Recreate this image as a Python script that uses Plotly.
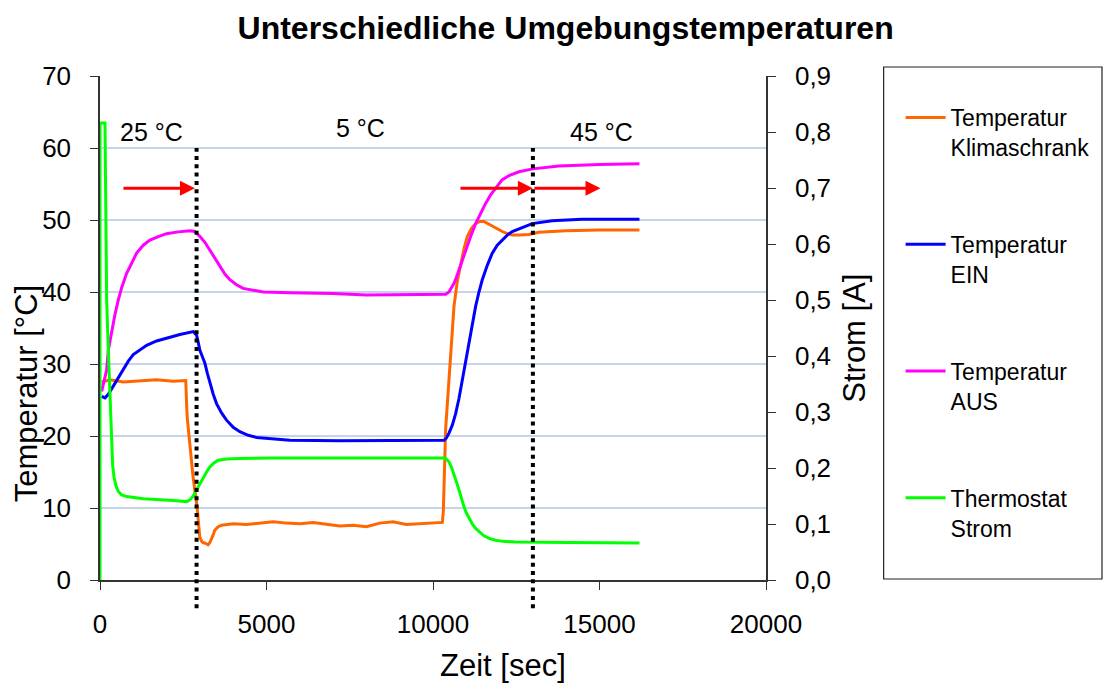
import plotly.graph_objects as go

# ---------------- data ----------------
t_klima = [50, 300, 700, 1200, 1700, 2200, 2575, 2600, 2620, 2695, 2795, 2915, 2995, 3050, 3095,
           3170, 3245, 3300, 3345, 3400, 3445, 3550, 3645, 4000, 4400, 4800, 5200, 5600, 6000,
           6400, 6800, 7200, 7600, 8000, 8400, 8800, 9200, 9600, 10000, 10280, 10310, 10340,
           10380, 10480, 10550, 10630, 10730, 10830, 10930, 11030, 11150, 11280, 11400, 11530,
           11650, 11780, 11930, 12080, 12230, 12380, 12600, 12880, 13180, 13500, 13980, 15000,
           16200]
T_klima = [27.5, 27.8, 27.5, 27.7, 27.8, 27.6, 27.7, 24.5, 22.5, 19.0, 14.3, 10.2, 6.0, 5.4, 5.2,
           5.1, 4.9, 5.2, 5.6, 6.3, 6.9, 7.4, 7.6, 7.8, 7.7, 7.9, 8.1, 7.9, 7.8,
           8.0, 7.7, 7.5, 7.6, 7.4, 7.9, 8.1, 7.7, 7.8, 8.0, 8.0, 9.5, 15.0,
           21.0, 27.8, 33.0, 38.0, 41.5, 44.0, 46.0, 47.7, 48.8, 49.5, 49.8, 49.8,
           49.5, 49.1, 48.7, 48.4, 48.1, 47.9, 47.9, 48.0, 48.3, 48.4, 48.5, 48.6,
           48.6]

t_ein = [50, 150, 250, 400, 550, 700, 850, 1000, 1200, 1400, 1700, 2000, 2400, 2800, 2900, 2950,
         3000, 3075, 3150, 3225, 3300, 3400, 3500, 3650, 3800, 4000, 4200, 4450, 4700, 5200,
         5700, 7200, 9000, 10330, 10400, 10480, 10580, 10680, 10780, 10880, 10980, 11080,
         11180, 11280, 11380, 11480, 11630, 11780, 11930, 12080, 12230, 12380, 12680, 12980,
         13580, 14470, 16200]
T_ein = [25.5, 25.3, 25.8, 27.0, 28.2, 29.3, 30.4, 31.3, 32.0, 32.6, 33.2, 33.6, 34.1, 34.5, 34.0,
         33.0, 31.9, 31.0, 30.1, 28.7, 27.3, 25.8, 24.5, 23.2, 22.2, 21.2, 20.6, 20.1, 19.8, 19.6,
         19.4, 19.35, 19.4, 19.4, 19.7, 20.4, 21.5, 23.1, 25.2, 27.8, 30.6, 33.3,
         35.8, 38.0, 40.0, 41.7, 43.7, 45.4, 46.5, 47.2, 47.9, 48.4, 49.0, 49.5,
         49.9, 50.1, 50.1]

t_aus = [50, 120, 200, 250, 350, 450, 550, 650, 800, 950, 1100, 1300, 1500, 1750, 2000, 2350,
         2700, 2850, 2950, 3000, 3150, 3300, 3450, 3600, 3750, 3900, 4100, 4300, 4600, 4900,
         5700, 7000, 8000, 9000, 10380, 10480, 10550, 10630, 10700, 10780, 10880, 10980,
         11130, 11280, 11430, 11580, 11730, 11880, 12080, 12300, 12580, 13000, 13780, 15000,
         16200]
T_aus = [26.2, 27.5, 29.2, 31.9, 34.5, 36.9, 38.9, 40.6, 42.6, 44.1, 45.4, 46.5, 47.2, 47.7, 48.1,
         48.35, 48.5, 48.4, 48.0, 47.7, 46.9, 45.8, 44.6, 43.5, 42.5, 41.7, 41.0, 40.5, 40.2,
         40.0, 39.9, 39.8, 39.6, 39.6, 39.7, 40.0, 40.5, 41.2, 42.0, 43.1, 44.5, 45.8,
         47.7, 49.5, 51.0, 52.3, 53.5, 54.4, 55.6, 56.2, 56.7, 57.1, 57.5, 57.7,
         57.8]

t_strom = [0, 0, 150, 200, 250, 300, 350, 380, 420, 480, 550, 650, 800, 1000, 1300, 2200, 2600,
           2700, 2800, 2900, 3000, 3100, 3200, 3300, 3420, 3550, 3800, 4200, 5200, 7200, 10330,
           10400, 10480, 10550, 10630, 10700, 10780, 10850, 10930, 11000, 11080, 11180, 11280,
           11400, 11530, 11700, 11880, 12100, 12480, 14070, 16200]
I_strom = [0.0, 0.816, 0.816, 0.50, 0.41, 0.321, 0.232, 0.205, 0.184, 0.168, 0.158, 0.152, 0.149,
           0.147, 0.145, 0.142, 0.140, 0.143, 0.150, 0.161, 0.172, 0.182, 0.193, 0.202, 0.209,
           0.214, 0.216, 0.217, 0.218, 0.218, 0.218, 0.216, 0.211, 0.202, 0.190, 0.176, 0.161,
           0.146, 0.131, 0.120, 0.110, 0.100, 0.092, 0.085, 0.079, 0.074, 0.071, 0.069, 0.068,
           0.067, 0.066]

series_names = ["Temperatur<br>Klimaschrank", "Temperatur<br>EIN", "Temperatur<br>AUS",
                "Thermostat<br>Strom"]
series_colors = ["#FF6600", "#0000FF", "#FF00FF", "#00FF00"]

phase_labels = ["25 °C", "5 °C", "45 °C"]
phase_label_x = [1560, 7810, 15060]
phase_label_y = [62.2, 62.8, 62.2]
switch_times = [2900, 13000]
arrow_tails = [660, 10780, 13000]
arrow_heads = [2850, 13000, 15030]
arrow_level = 54.4

x_ticks = [0, 5000, 10000, 15000, 20000]
y_ticks = [0, 10, 20, 30, 40, 50, 60, 70]
y2_ticks = [0.0, 0.1, 0.2, 0.3, 0.4, 0.5, 0.6, 0.7, 0.8, 0.9]

FONT = "Liberation Sans, Arial, sans-serif"

fig = go.Figure()
xs = [t_klima, t_ein, t_aus, t_strom]
ys = [T_klima, T_ein, T_aus, I_strom]
for i in range(4):
    fig.add_trace(go.Scatter(
        x=xs[i], y=ys[i], mode="lines", name=series_names[i],
        line=dict(color=series_colors[i], width=3),
        yaxis="y2" if i == 3 else "y",
        legendgroup="g%d" % i,
    ))

shapes = []
for st in switch_times:
    shapes.append(dict(type="line", xref="x", yref="paper", x0=st, x1=st,
                       y0=-0.056, y1=0.857,
                       line=dict(color="black", width=4, dash="4px,4.3px")))
# legend frame
shapes.append(dict(type="rect", xref="paper", yref="paper",
                   x0=(886 - 100) / 668, x1=(1105 - 100) / 668,
                   y0=(580 - 579) / 504, y1=(580 - 67) / 504,
                   line=dict(color="#222222", width=1.2), fillcolor="rgba(0,0,0,0)"))

annotations = []
for lab, lx, ly in zip(phase_labels, phase_label_x, phase_label_y):
    annotations.append(dict(x=lx, y=ly, xref="x", yref="y", text=lab, showarrow=False,
                            xanchor="center", yanchor="middle",
                            font=dict(size=25, color="black", family=FONT)))
for ta, he in zip(arrow_tails, arrow_heads):
    annotations.append(dict(x=he, y=arrow_level, ax=ta, ay=arrow_level, xref="x", yref="y",
                            axref="x", ayref="y", text="", showarrow=True, arrowhead=2,
                            arrowsize=1, arrowwidth=3, arrowcolor="#FF0000"))
annotations.append(dict(x=(504 - 100) / 668, y=(580 - 665) / 504, xref="paper", yref="paper",
                        text="Zeit [sec]", showarrow=False, xanchor="center", yanchor="middle",
                        font=dict(size=31, color="black", family=FONT)))
annotations.append(dict(x=(26 - 100) / 668, y=(580 - 394) / 504, xref="paper", yref="paper",
                        text="Temperatur [°C]", showarrow=False, textangle=-90,
                        xanchor="center", yanchor="middle",
                        font=dict(size=31, color="black", family=FONT)))
annotations.append(dict(x=(857 - 100) / 668, y=(580 - 338) / 504, xref="paper", yref="paper",
                        text="Strom [A]", showarrow=False, textangle=-90,
                        xanchor="center", yanchor="middle",
                        font=dict(size=31, color="black", family=FONT)))

axis_common = dict(ticks="outside", ticklen=8, tickwidth=1.2, tickcolor="#333333",
                   showline=True, linecolor="#333333", linewidth=1.5,
                   tickfont=dict(size=26, color="black", family=FONT), zeroline=False,
                   automargin=False)

fig.update_layout(
    width=1107, height=687, autosize=False,
    margin=dict(l=100, r=339, t=76, b=107),
    paper_bgcolor="white", plot_bgcolor="white",
    separators=",.",
    font=dict(family=FONT, color="black"),
    title=dict(text="<b>Unterschiedliche Umgebungstemperaturen</b>",
               x=(567 - 100) / 668, xref="paper", xanchor="center",
               y=1 - 28 / 687, yref="container", yanchor="middle",
               font=dict(size=32, color="black", family=FONT)),
    xaxis=dict(range=[0, 20000], tickvals=x_ticks, tickformat="d", showgrid=False,
               ticklabelstandoff=12, **axis_common),
    yaxis=dict(range=[0, 70], tickvals=y_ticks, showgrid=True, gridcolor="#C5D3EC",
               gridwidth=1.5, ticklabelstandoff=14, **axis_common),
    yaxis2=dict(range=[0, 0.9], tickvals=y2_ticks, tickformat=".1f", overlaying="y",
                side="right", showgrid=False, ticklabelstandoff=14, **axis_common),
    legend=dict(x=(903 - 100) / 668, xanchor="left", y=(580 - 96) / 504, yanchor="top",
                font=dict(size=23, color="black", family=FONT), valign="top",
                tracegroupgap=64, itemwidth=40, bgcolor="rgba(0,0,0,0)",
                borderwidth=0),
    shapes=shapes,
    annotations=annotations,
    showlegend=True,
)

fig.write_html("out.html")
